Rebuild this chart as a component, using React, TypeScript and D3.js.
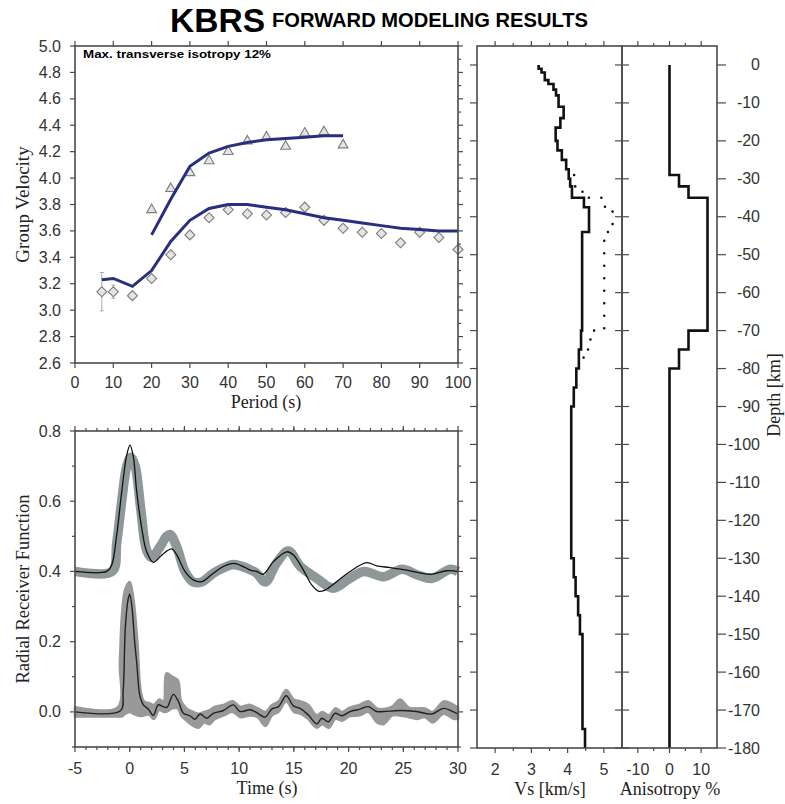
import * as d3 from 'd3';

// ---- dispersion (group velocity) ----
const periods = [7, 10, 15, 20, 25, 30, 35, 40, 45, 50, 55, 60, 65, 70, 75, 80, 85, 90, 95, 100];
const rayleighObs = [3.14, 3.14, 3.11, 3.24, 3.42, 3.57, 3.7, 3.76, 3.73, 3.72, 3.74, 3.78, 3.68, 3.62, 3.59, 3.58, 3.51, 3.59, 3.55, 3.46];
const rayleighErr = [0.145, 0.05, 0, 0, 0, 0, 0, 0, 0, 0, 0, 0, 0, 0, 0, 0, 0, 0, 0, 0];
const rayleighSyn = [3.23, 3.24, 3.18, 3.3, 3.52, 3.68, 3.77, 3.8, 3.8, 3.78, 3.76, 3.73, 3.7, 3.68, 3.66, 3.64, 3.62, 3.61, 3.6, 3.6];
const lovePeriods = [20, 25, 30, 35, 40, 45, 50, 55, 60, 65, 70];
const loveObs = [3.76, 3.92, 4.04, 4.13, 4.2, 4.28, 4.31, 4.24, 4.34, 4.35, 4.25];
const loveSyn = [3.57, 3.84, 4.09, 4.19, 4.24, 4.27, 4.29, 4.3, 4.31, 4.32, 4.32];

// ---- receiver functions [time, amplitude] ----
const rfUpperObs: [number, number][] = [
  [-5, 0.4], [-1.6, 0.4], [-1.19, 0.48], [-0.73, 0.6], [-0.27, 0.7], [0.1, 0.725], [0.5, 0.7], [1.0, 0.58],
  [1.55, 0.46], [2.0, 0.44], [2.77, 0.47], [3.38, 0.5], [3.7, 0.505], [4.3, 0.47], [5.05, 0.4], [5.81, 0.37],
  [6.58, 0.37], [7.64, 0.395], [8.56, 0.41], [9.47, 0.42], [10.38, 0.413], [11.0, 0.405], [11.6, 0.395],
  [12.4, 0.37], [13.4, 0.423], [14.5, 0.458], [15.6, 0.414], [17.1, 0.38], [18.6, 0.352], [20.1, 0.38],
  [21.4, 0.4], [23.2, 0.385], [24.9, 0.406], [26.3, 0.39], [27.6, 0.38], [29.3, 0.406], [30, 0.4],
];
const rfUpperSyn: [number, number][] = [
  [-5, 0.4], [-2.1, 0.4], [-1.65, 0.418], [-1.19, 0.504], [-0.73, 0.627], [-0.27, 0.732], [0.03, 0.76],
  [0.33, 0.727], [0.64, 0.627], [1.1, 0.523], [1.55, 0.456], [2.16, 0.426], [2.77, 0.442], [3.38, 0.458],
  [3.84, 0.464], [4.3, 0.447], [5.05, 0.4], [5.81, 0.376], [6.58, 0.371], [7.64, 0.395], [8.56, 0.414],
  [9.47, 0.423], [10.38, 0.414], [11.0, 0.404], [11.6, 0.4], [12.2, 0.392], [13.13, 0.428], [14.35, 0.456],
  [14.96, 0.447], [15.87, 0.404], [16.63, 0.362], [17.24, 0.344], [17.85, 0.347], [18.92, 0.371],
  [20.14, 0.4], [21.66, 0.425], [22.57, 0.416], [23.79, 0.411], [25.32, 0.404], [27.45, 0.392],
  [28.97, 0.402], [30, 0.4],
];
const rfLowerMean: [number, number][] = [
  [-5, 0], [-0.85, 0.003], [-0.6, 0.06], [-0.4, 0.24], [-0.15, 0.32], [0, 0.335], [0.2, 0.3], [0.45, 0.2],
  [0.64, 0.14], [0.94, 0.044], [1.25, 0.02], [1.7, 0.008], [2.16, -0.01], [2.6, 0.02], [3.07, 0.015],
  [3.4, 0.013], [3.99, 0.05], [4.45, 0.03], [4.9, -0.004], [5.5, -0.011], [5.97, -0.021], [6.43, -0.006],
  [7.03, -0.018], [7.64, -0.004], [8.56, 0.004], [9.47, 0.02], [10.08, 0.001], [11.0, 0.006], [11.6, -0.002],
  [12.37, -0.015], [12.98, 0.008], [13.6, 0.015], [14.3, 0.046], [14.96, 0.017], [15.57, 0.01],
  [16.33, -0.009], [17.1, -0.034], [17.55, -0.018], [18.16, -0.028], [18.77, -0.004], [19.38, -0.011],
  [20.14, 0.001], [21.05, 0.008], [21.8, 0.015], [22.57, 0.001], [23.18, 0.001], [24.7, 0.004],
  [26.2, 0.001], [27.6, -0.006], [28.67, 0.01], [29.6, 0], [30, -0.006],
];
// [time, low, high]
const rfLowerBand: [number, number, number][] = [
  [-5, -0.013, 0.013], [-1.1, -0.013, 0.013], [-0.9, -0.013, 0.14], [-0.7, -0.013, 0.28], [-0.4, -0.005, 0.35],
  [0, 0, 0.37], [0.3, -0.005, 0.33], [0.7, -0.01, 0.2], [1.0, -0.012, 0.06], [1.3, -0.01, 0.03],
  [1.8, -0.008, 0.025], [2.2, -0.02, 0.02], [2.7, 0.005, 0.035], [3.1, 0, 0.03], [3.35, 0, 0.11],
  [3.9, 0.01, 0.1], [4.4, 0.01, 0.09], [4.7, -0.01, 0.03], [5.2, -0.025, 0.01], [5.8, -0.04, 0],
  [6.3, -0.045, -0.005], [6.8, -0.03, 0], [7.3, -0.035, 0.005], [7.8, -0.02, 0.015], [8.6, -0.01, 0.02],
  [9.4, 0, 0.03], [10.1, -0.015, 0.015], [11.0, -0.01, 0.02], [11.7, -0.015, 0.01], [12.4, -0.04, 0],
  [13.0, -0.01, 0.02], [13.6, 0, 0.03], [14.3, 0.03, 0.062], [15.0, 0, 0.035], [15.6, -0.005, 0.03],
  [16.3, -0.02, 0.02], [17.1, -0.045, -0.01], [17.6, -0.035, 0], [18.2, -0.045, -0.01], [18.8, -0.02, 0.01],
  [19.4, -0.025, 0], [20.1, -0.012, 0.012], [21.0, -0.01, 0.02], [21.8, 0, 0.03], [22.6, -0.03, 0.01],
  [23.2, -0.035, 0.008], [24.0, -0.01, 0.015], [24.7, -0.01, 0.035], [25.5, -0.015, 0.012],
  [26.2, -0.02, 0.01], [27.0, -0.015, 0.01], [27.7, -0.03, 0], [28.7, -0.005, 0.03], [29.6, -0.02, 0.02],
  [30, -0.02, 0.012],
];

// ---- velocity model: [top depth, bottom depth, value] ----
const vsLayers: [number, number, number][] = [
  [0, -1, 3.2], [-1, -2, 3.28], [-2, -4, 3.37], [-4, -5, 3.47], [-5, -6.5, 3.61], [-6.5, -8, 3.68],
  [-8, -11, 3.75], [-11, -14, 3.89], [-14, -16.5, 3.8], [-16.5, -20, 3.67], [-20, -22.5, 3.72],
  [-22.5, -25, 3.84], [-25, -27.5, 3.96], [-27.5, -30, 4.03], [-30, -32, 4.07], [-32, -35, 4.12],
  [-35, -37.5, 4.45], [-37.5, -44, 4.59], [-44, -70, 4.4], [-70, -75, 4.37], [-75, -80, 4.31],
  [-80, -85, 4.24], [-85, -90, 4.17], [-90, -130, 4.1], [-130, -135, 4.17], [-135, -140, 4.22],
  [-140, -145, 4.29], [-145, -150, 4.34], [-150, -175, 4.41], [-175, -180, 4.48],
];
const vshLayers: [number, number, number][] = [
  [-29, -32, 4.18], [-32, -35, 4.41], [-35, -37.5, 5.03], [-37.5, -44, 5.24], [-44, -70, 5.01],
  [-70, -75, 4.63], [-75, -80, 4.44],
];
const anisoLayers: [number, number, number][] = [
  [0, -29, 0], [-29, -32, 3], [-32, -35, 6], [-35, -70, 12], [-70, -75, 6], [-75, -80, 3], [-80, -180, 0],
];

// ---- tick labels ----
const periodTicks = [0, 10, 20, 30, 40, 50, 60, 70, 80, 90, 100];
const velTicks = [2.6, 2.8, 3.0, 3.2, 3.4, 3.6, 3.8, 4.0, 4.2, 4.4, 4.6, 4.8, 5.0];
const velMinor = d3.range(2.7, 5.0, 0.2);
const timeTicks = [-5, 0, 5, 10, 15, 20, 25, 30];
const timeMinor = d3.range(-4, 30, 1);
const rfTicks = [0, 0.2, 0.4, 0.6, 0.8];
const rfMinor = [-0.1, 0.1, 0.3, 0.5, 0.7];
const vsTicks = [2, 3, 4, 5];
const vsMinor = [2.5, 3.5, 4.5];
const anisoTicks = [-10, 0, 10];
const anisoMinor = [-5, 5];
const depthTicks = d3.range(0, -181, -10);

const SANS = '"Liberation Sans", Arial, Helvetica, sans-serif';
const SERIF = '"Liberation Serif", "Times New Roman", serif';
const FRAME = '#4a4a4a';
const LABEL = '#333';
const NAVY = '#282f7c';

const stepPoints = (layers: [number, number, number][]) =>
  layers.flatMap(([top, bot, v]) => [[v, top], [v, bot]] as [number, number][]);

export default function App() {
  const xA = d3.scaleLinear().domain([0, 100]).range([75, 458]);
  const yA = d3.scaleLinear().domain([2.6, 5.0]).range([363, 46]);
  const xB = d3.scaleLinear().domain([-5, 30]).range([75, 458]);
  const yB = d3.scaleLinear().domain([-0.1, 0.8]).range([747, 431]);
  const xC = d3.scaleLinear().domain([1.5, 5.5]).range([477, 622]);
  const xD = d3.scaleLinear().domain([-15, 15]).range([622, 717]);
  const yD = d3.scaleLinear().domain([5, -180]).range([46, 748]);

  const dispLine = d3.line<[number, number]>().x((d) => xA(d[0])).y((d) => yA(d[1]));
  const rfLine = d3.line<[number, number]>().x((d) => xB(d[0])).y((d) => yB(d[1])).curve(d3.curveCatmullRom);
  const rfBand = d3
    .area<[number, number, number]>()
    .x((d) => xB(d[0]))
    .y0((d) => yB(d[1]))
    .y1((d) => yB(d[2]))
    .curve(d3.curveCatmullRom);
  const vsLine = d3.line<[number, number]>().x((d) => xC(d[0])).y((d) => yD(d[1]));
  const anLine = d3.line<[number, number]>().x((d) => xD(d[0])).y((d) => yD(d[1]));

  const diamond = d3.symbol().type(d3.symbolSquare).size(50)()!;
  const triangle = d3.symbol().type(d3.symbolTriangle).size(42)()!;

  const hTicks = (scale: (v: number) => number, vals: number[], y: number, dir: number, len: number, k: string) =>
    vals.map((v) => (
      <line key={k + v} x1={scale(v)} x2={scale(v)} y1={y} y2={y + dir * len} stroke={FRAME} strokeWidth={1.2} />
    ));
  const vTicks = (scale: (v: number) => number, vals: number[], x: number, dir: number, len: number, k: string) =>
    vals.map((v) => (
      <line key={k + v} x1={x} x2={x + dir * len} y1={scale(v)} y2={scale(v)} stroke={FRAME} strokeWidth={1.2} />
    ));
  const f1 = d3.format('.1f');

  return (
    <svg
      width={785}
      height={804}
      style={{ position: 'absolute', left: 0, top: 0, background: '#fff' }}
      fontFamily={SANS}
    >
      {/* title */}
      <text x={170} y={32} fontSize={33} fontWeight="bold" textLength={95} lengthAdjust="spacingAndGlyphs">
        KBRS
      </text>
      <text x={272} y={27} fontSize={20} fontWeight="bold" textLength={316} lengthAdjust="spacingAndGlyphs">
        FORWARD MODELING RESULTS
      </text>

      {/* ---------- dispersion panel ---------- */}
      <g>
        {hTicks(xA, periodTicks, 363, 1, 5, 'ab')}
        {hTicks(xA, periodTicks, 46, -1, 5, 'at')}
        {vTicks(yA, velTicks, 75, -1, 5, 'al')}
        {vTicks(yA, velTicks, 458, 1, 5, 'ar')}
        {vTicks(yA, velMinor, 458, 1, 3, 'arm')}
        {periodTicks.map((v) => (
          <text key={'apl' + v} x={xA(v)} y={388} fontSize={16} fill={LABEL} textAnchor="middle">
            {v}
          </text>
        ))}
        {velTicks.map((v) => (
          <text key={'avl' + v} x={61} y={yA(v) + 5.5} fontSize={16} fill={LABEL} textAnchor="end">
            {f1(v)}
          </text>
        ))}
        <text x={266} y={408} fontSize={18} fontFamily={SERIF} textAnchor="middle" fill="#222">
          Period (s)
        </text>
        <text
          transform={`translate(29,${yA(3.8)}) rotate(-90)`}
          fontSize={19}
          fontFamily={SERIF}
          textAnchor="middle"
          fill="#222"
        >
          Group Velocity
        </text>
        <text x={83} y={58} fontSize={11.5} fontWeight="bold" textLength={188} lengthAdjust="spacingAndGlyphs">
          Max. transverse isotropy 12%
        </text>

        {/* error bars */}
        {periods.map((p, i) =>
          rayleighErr[i] > 0 ? (
            <g key={'err' + p} stroke="#aaa" strokeWidth={1}>
              <line x1={xA(p)} x2={xA(p)} y1={yA(rayleighObs[i] - rayleighErr[i])} y2={yA(rayleighObs[i] + rayleighErr[i])} />
              <line x1={xA(p) - 2} x2={xA(p) + 2} y1={yA(rayleighObs[i] - rayleighErr[i])} y2={yA(rayleighObs[i] - rayleighErr[i])} />
              <line x1={xA(p) - 2} x2={xA(p) + 2} y1={yA(rayleighObs[i] + rayleighErr[i])} y2={yA(rayleighObs[i] + rayleighErr[i])} />
            </g>
          ) : null
        )}
        {periods.map((p, i) => (
          <path
            key={'rd' + p}
            d={diamond}
            transform={`translate(${xA(p)},${yA(rayleighObs[i])}) rotate(45)`}
            fill="#e4e4e4"
            stroke="#7c7c7c"
            strokeWidth={1.1}
          />
        ))}
        {lovePeriods.map((p, i) => (
          <path
            key={'lt' + p}
            d={triangle}
            transform={`translate(${xA(p)},${yA(loveObs[i])})`}
            fill="#e4e4e4"
            stroke="#7c7c7c"
            strokeWidth={1.1}
          />
        ))}
        <path d={dispLine(periods.map((p, i) => [p, rayleighSyn[i]]))!} fill="none" stroke={NAVY} strokeWidth={3} />
        <path d={dispLine(lovePeriods.map((p, i) => [p, loveSyn[i]]))!} fill="none" stroke={NAVY} strokeWidth={3} />
        <rect x={75} y={46} width={383} height={317} fill="none" stroke={FRAME} strokeWidth={1.6} />
      </g>

      {/* ---------- receiver function panel ---------- */}
      <g>
        {hTicks(xB, timeTicks, 747, 1, 5, 'bb')}
        {hTicks(xB, timeMinor, 747, 1, 3, 'bbm')}
        {hTicks(xB, timeTicks, 431, -1, 5, 'bt')}
        {hTicks(xB, timeMinor, 431, -1, 3, 'btm')}
        {vTicks(yB, rfTicks, 75, -1, 5, 'bl')}
        {vTicks(yB, rfMinor, 75, -1, 3, 'blm')}
        {vTicks(yB, rfTicks, 458, 1, 5, 'br')}
        {vTicks(yB, rfMinor, 458, 1, 3, 'brm')}
        {timeTicks.map((v) => (
          <text key={'btl' + v} x={xB(v)} y={774} fontSize={16} fill={LABEL} textAnchor="middle">
            {v}
          </text>
        ))}
        {rfTicks.map((v) => (
          <text key={'brl' + v} x={61} y={yB(v) + 5.5} fontSize={16} fill={LABEL} textAnchor="end">
            {f1(v)}
          </text>
        ))}
        <text x={267} y={794} fontSize={18} fontFamily={SERIF} textAnchor="middle" fill="#222">
          Time (s)
        </text>
        <text
          transform={`translate(29,${yB(0.35)}) rotate(-90)`}
          fontSize={18.5}
          fontFamily={SERIF}
          textAnchor="middle"
          fill="#222"
        >
          Radial Receiver Function
        </text>

        <path d={rfLine(rfUpperObs)!} fill="none" stroke="#8e9898" strokeWidth={9.5} strokeLinejoin="round" />
        <path d={rfLine(rfUpperSyn)!} fill="none" stroke="#111" strokeWidth={1.3} />
        <path d={rfBand(rfLowerBand)!} fill="#999" stroke="#999" strokeWidth={2.5} strokeLinejoin="round" />
        <path d={rfLine(rfLowerMean)!} fill="none" stroke="#222" strokeWidth={1.4} />
        <rect x={75} y={431} width={383} height={316} fill="none" stroke={FRAME} strokeWidth={1.6} />
      </g>

      {/* ---------- Vs panel ---------- */}
      <g>
        {hTicks(xC, vsTicks, 46, -1, 5, 'ct')}
        {hTicks(xC, vsMinor, 46, -1, 3, 'ctm')}
        {hTicks(xC, vsTicks, 748, 1, 5, 'cb')}
        {hTicks(xC, vsMinor, 748, 1, 3, 'cbm')}
        {vTicks(yD, depthTicks, 477, -1, 7, 'cl')}
        {vTicks(yD, depthTicks, 615, 1, 14, 'cm')}
        {vsTicks.map((v) => (
          <text key={'cvl' + v} x={xC(v)} y={775} fontSize={16} fill={LABEL} textAnchor="middle">
            {v}
          </text>
        ))}
        <text x={550} y={795} fontSize={18} fontFamily={SERIF} textAnchor="middle" fill="#222">
          Vs [km/s]
        </text>
        <path
          d={vsLine(stepPoints(vshLayers))!}
          fill="none"
          stroke="#111"
          strokeWidth={2.6}
          strokeLinecap="round"
          strokeDasharray="0 12.5"
        />
        <path d={vsLine(stepPoints(vsLayers))!} fill="none" stroke="#111" strokeWidth={2.6} />
        <rect x={477} y={46} width={145} height={702} fill="none" stroke={FRAME} strokeWidth={1.6} />
      </g>

      {/* ---------- anisotropy panel ---------- */}
      <g>
        {hTicks(xD, anisoTicks, 46, -1, 5, 'dt')}
        {hTicks(xD, anisoMinor, 46, -1, 3, 'dtm')}
        {hTicks(xD, anisoTicks, 748, 1, 5, 'db')}
        {hTicks(xD, anisoMinor, 748, 1, 3, 'dbm')}
        {vTicks(yD, depthTicks, 717, 1, 9, 'dr')}
        {anisoTicks.map((v) => (
          <text key={'dal' + v} x={xD(v)} y={775} fontSize={16} fill={LABEL} textAnchor="middle">
            {v}
          </text>
        ))}
        {depthTicks.map((v) => (
          <text key={'ddl' + v} x={760} y={yD(v) + 5.5} fontSize={16} fill={LABEL} textAnchor="end">
            {v}
          </text>
        ))}
        <text x={670} y={795} fontSize={18} fontFamily={SERIF} textAnchor="middle" fill="#222">
          Anisotropy %
        </text>
        <text
          transform={`translate(780,${yD(-87)}) rotate(-90)`}
          fontSize={18}
          fontFamily={SERIF}
          textAnchor="middle"
          fill="#222"
        >
          Depth [km]
        </text>
        <path d={anLine(stepPoints(anisoLayers))!} fill="none" stroke="#111" strokeWidth={2.6} />
        <rect x={622} y={46} width={95} height={702} fill="none" stroke={FRAME} strokeWidth={1.6} />
      </g>
    </svg>
  );
}
